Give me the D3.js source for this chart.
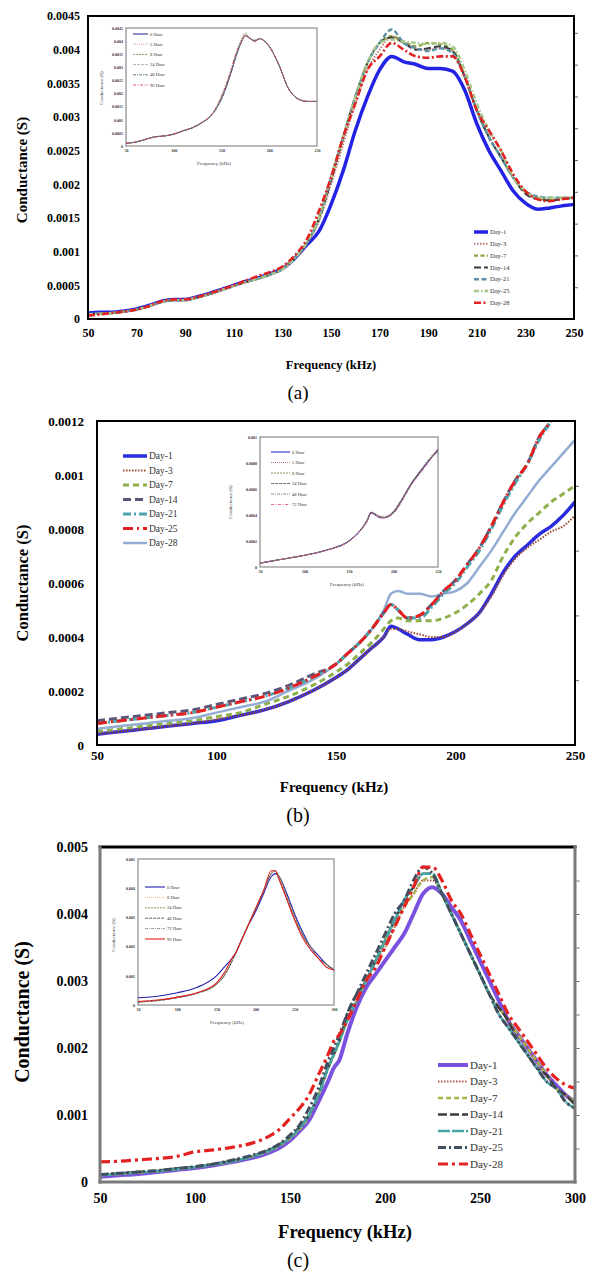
<!DOCTYPE html>
<html><head><meta charset="utf-8">
<script src="https://cdn.jsdelivr.net/npm/d3@7"></script>
<style>body{margin:0;background:#fff}svg{display:block}</style>
</head><body>
<svg id="chart" width="594" height="1274"></svg>
<script>
// ---------------- DATA ----------------
const dayNames = ["Day-1","Day-3","Day-7","Day-14","Day-21","Day-25","Day-28"];
const hourNamesA = ["0 Hour","5 Hour","8 Hour","24 Hour","48 Hour","96 Hour"];
const hourNamesB = ["0 Hour","5 Hour","8 Hour","24 Hour","48 Hour","72 Hour"];
const hourNamesC = ["0 Hour","8 Hour","24 Hour","48 Hour","72 Hour","96 Hour"];

// Panel (a)
const xTicksA = [50,70,90,110,130,150,170,190,210,230,250];
const yTicksA = [0,0.0005,0.001,0.0015,0.002,0.0025,0.003,0.0035,0.004,0.0045];
const rTicksA = [1,2,3,4,5,6,7,8,9];
const freqA = [50,55,60,65,70,75,80,85,90,95,100,105,110,115,120,125,130,135,140,145,150,155,160,165,170,175,180,185,190,195,200,205,210,215,220,225,230,235,240,245,250];
const a_day1  = [0.00009,0.0001,0.0001,0.00012,0.00015,0.0002,0.00026,0.00029,0.00029,0.00033,0.00038,0.00044,0.0005,0.00056,0.00061,0.00067,0.00075,0.0009,0.0011,0.0013,0.0017,0.0022,0.0028,0.0033,0.0037,0.0039,0.00382,0.00378,0.00372,0.00372,0.00368,0.0034,0.0029,0.0025,0.0022,0.0019,0.00172,0.00163,0.00165,0.00168,0.0017];
const a_day3  = [0.00007,0.00008,0.00009,0.00011,0.00014,0.00019,0.00025,0.00028,0.00028,0.00032,0.00037,0.00043,0.00049,0.00055,0.0006,0.00066,0.00074,0.0009,0.00112,0.00145,0.002,0.0026,0.0032,0.0037,0.004,0.0042,0.0041,0.00402,0.004,0.00402,0.00398,0.0036,0.0031,0.0027,0.0024,0.0021,0.00188,0.00178,0.00176,0.00178,0.0018];
const a_day7  = [0.00007,0.00008,0.00009,0.00011,0.00014,0.00019,0.00025,0.00028,0.00029,0.00032,0.00037,0.00043,0.00049,0.00055,0.0006,0.00066,0.00075,0.00091,0.00113,0.0015,0.0021,0.0027,0.0033,0.0038,0.0041,0.0042,0.00412,0.00405,0.0041,0.00408,0.004,0.0036,0.0031,0.0027,0.0024,0.0021,0.00188,0.0018,0.00178,0.0018,0.0018];
const a_day14 = [0.00007,0.00008,0.00009,0.00011,0.00014,0.00019,0.00025,0.00028,0.00028,0.00032,0.00037,0.00043,0.00049,0.00055,0.0006,0.00066,0.00074,0.0009,0.00112,0.00148,0.00205,0.0027,0.0033,0.0038,0.0041,0.00418,0.0041,0.004,0.00402,0.00405,0.00398,0.0036,0.0031,0.0027,0.0024,0.0021,0.00186,0.00178,0.00176,0.00178,0.0018];
const a_day21 = [0.00007,0.00008,0.00009,0.00011,0.00014,0.00019,0.00025,0.00028,0.00028,0.00032,0.00037,0.00043,0.00049,0.00055,0.0006,0.00066,0.00074,0.0009,0.00113,0.0015,0.0021,0.0027,0.0033,0.0038,0.0041,0.0043,0.0041,0.00402,0.00398,0.00402,0.00395,0.0036,0.0031,0.0027,0.0024,0.0021,0.0019,0.00182,0.0018,0.0018,0.0018];
const a_day25 = [0.00007,0.00008,0.00009,0.00011,0.00014,0.00019,0.00025,0.00028,0.00028,0.00032,0.00037,0.00043,0.00049,0.00055,0.0006,0.00066,0.00074,0.0009,0.00113,0.0015,0.0021,0.0027,0.0033,0.0038,0.0041,0.00415,0.00412,0.0041,0.00408,0.0041,0.00405,0.0037,0.0032,0.0028,0.0025,0.0021,0.0019,0.0018,0.0018,0.0018,0.0018];
const a_day28 = [0.00005,0.00007,0.00009,0.00011,0.00014,0.00019,0.00026,0.00029,0.00029,0.00033,0.00038,0.00044,0.0005,0.00057,0.00064,0.0007,0.00078,0.00094,0.00118,0.0016,0.0021,0.0027,0.0032,0.0037,0.0039,0.0041,0.004,0.0039,0.00388,0.0039,0.0039,0.0036,0.0031,0.0028,0.0025,0.00215,0.0019,0.00178,0.00175,0.00178,0.0018];

// Inset (a)
const inXTicksA = [50,100,150,200,250];
const freqIA = [50,60,70,80,90,100,110,120,130,140,150,160,165,170,175,180,185,190,195,200,210,220,230,240,250];
const ia_h0  = [0.0001,0.00015,0.00025,0.00035,0.00038,0.00045,0.00058,0.0007,0.0009,0.0012,0.0018,0.0028,0.0034,0.0039,0.0042,0.0041,0.004,0.0041,0.004,0.0038,0.0031,0.0022,0.0018,0.0017,0.0017];
const ia_h5  = [0.0001,0.00015,0.00024,0.00034,0.00038,0.00045,0.00058,0.0007,0.0009,0.0012,0.0018,0.0028,0.0034,0.0039,0.00425,0.0041,0.00405,0.0041,0.004,0.0038,0.0031,0.0022,0.0018,0.0017,0.0017];
const ia_h8  = [0.0001,0.00015,0.00025,0.00035,0.00038,0.00046,0.00058,0.0007,0.0009,0.0012,0.0019,0.0029,0.0035,0.004,0.0043,0.0041,0.004,0.0041,0.004,0.0038,0.0031,0.0022,0.0018,0.0017,0.0017];
const ia_h24 = [0.0001,0.00015,0.00025,0.00035,0.00038,0.00045,0.00058,0.0007,0.0009,0.0012,0.0018,0.0028,0.0034,0.0039,0.0042,0.0041,0.00405,0.0041,0.004,0.0038,0.0031,0.0022,0.0018,0.0017,0.0017];
const ia_h48 = [0.0001,0.00015,0.00025,0.00035,0.00039,0.00045,0.00058,0.0007,0.0009,0.0012,0.0018,0.0028,0.0034,0.0039,0.0042,0.0041,0.004,0.00408,0.004,0.0038,0.0031,0.0022,0.0018,0.0017,0.0017];
const ia_h96 = [0.0001,0.00015,0.00025,0.00035,0.00038,0.00046,0.00059,0.00072,0.00092,0.00122,0.0019,0.0029,0.0035,0.0039,0.0042,0.0041,0.004,0.0041,0.004,0.0038,0.0031,0.0022,0.0018,0.0017,0.0017];

// Panel (b)
const xTicksB = [50,100,150,200,250];
const yTicksB = [0,0.0002,0.0004,0.0006,0.0008,0.001,0.0012];
const rTicksB = [1,2,3,4];
const freqB = [50,60,70,80,90,100,110,120,130,140,150,155,160,165,170,173,176,180,185,190,195,200,205,210,215,220,225,230,235,240,245,250];
const b_day1  = [0.00004,0.00005,0.00006,0.00007,0.00008,0.00009,0.00011,0.00013,0.00016,0.0002,0.00025,0.00028,0.00032,0.00036,0.0004,0.00044,0.00043,0.00041,0.00039,0.00039,0.0004,0.00042,0.00045,0.00049,0.00056,0.00064,0.0007,0.00074,0.00078,0.00081,0.00085,0.0009];
const b_day3  = [0.00004,0.00005,0.00006,0.00007,0.00008,0.000095,0.00011,0.00013,0.00016,0.0002,0.00025,0.00028,0.00032,0.00036,0.0004,0.00043,0.00043,0.00042,0.00041,0.0004,0.0004,0.00042,0.00045,0.00049,0.00055,0.00063,0.00069,0.00073,0.00076,0.00079,0.00081,0.00085];
const b_day7  = [0.00005,0.00006,0.00007,0.00008,0.00009,0.000105,0.00012,0.00015,0.00018,0.00022,0.00027,0.0003,0.00034,0.00038,0.00043,0.00046,0.00047,0.00046,0.00046,0.00046,0.00047,0.00049,0.00052,0.00056,0.00061,0.0007,0.00077,0.00082,0.00086,0.0009,0.00093,0.00096];
const b_day14 = [0.00009,0.0001,0.00011,0.00012,0.00013,0.00015,0.00017,0.00019,0.00022,0.00026,0.0003,0.00034,0.00038,0.00043,0.00049,0.00052,0.0005,0.00047,0.00048,0.00052,0.00057,0.00061,0.00067,0.00073,0.00081,0.0009,0.00098,0.00104,0.00114,0.0012,0.00128,0.00136];
const b_day21 = [0.00008,0.00009,0.0001,0.00011,0.00012,0.00014,0.00016,0.00018,0.00021,0.00025,0.0003,0.00034,0.00038,0.00043,0.00049,0.00052,0.0005,0.00047,0.00047,0.00051,0.00056,0.0006,0.00066,0.00072,0.0008,0.00089,0.00097,0.00104,0.00113,0.0012,0.00128,0.00136];
const b_day25 = [0.00008,0.00009,0.0001,0.00011,0.00012,0.00014,0.00016,0.00018,0.00021,0.00025,0.0003,0.00034,0.00038,0.00043,0.00049,0.00052,0.0005,0.00047,0.00048,0.00052,0.00057,0.00061,0.00067,0.00073,0.00081,0.0009,0.00098,0.00104,0.00114,0.0012,0.00128,0.00136];
const b_day28 = [0.00006,0.00007,0.00008,0.00009,0.0001,0.00012,0.00014,0.00016,0.0002,0.00024,0.0003,0.00034,0.00038,0.00043,0.0005,0.00056,0.00057,0.00056,0.00056,0.00055,0.00056,0.00057,0.0006,0.00066,0.00072,0.00079,0.00086,0.00092,0.00098,0.00103,0.00108,0.00113];

// Inset (b)
const inXTicksB = [50,100,150,200,250];
const inYTicksB = [0,0.0002,0.0004,0.0006,0.0008,0.001];
const freqIB = [50,75,100,125,150,160,170,175,180,185,190,200,210,220,230,240,250];
const ib_h0  = [0.00003,0.00006,0.00009,0.00013,0.0002,0.00026,0.00035,0.00042,0.0004,0.00038,0.00038,0.00042,0.00052,0.00064,0.00073,0.00082,0.0009];
const ib_h5  = [0.00003,0.00006,0.00009,0.00013,0.0002,0.00026,0.00035,0.00041,0.0004,0.00038,0.00038,0.00042,0.00053,0.00065,0.00074,0.00083,0.00088];
const ib_h8  = [0.00003,0.00006,0.00009,0.00013,0.0002,0.00026,0.00035,0.00042,0.0004,0.00039,0.00038,0.00042,0.00052,0.00064,0.00073,0.00083,0.00091];
const ib_h24 = [0.00003,0.00006,0.00009,0.00013,0.0002,0.00026,0.00036,0.00042,0.0004,0.00038,0.00038,0.00043,0.00053,0.00064,0.00074,0.00082,0.0009];
const ib_h48 = [0.00003,0.00006,0.00009,0.00013,0.0002,0.00026,0.00035,0.00042,0.00041,0.00039,0.00039,0.00042,0.00052,0.00063,0.00073,0.00082,0.00089];
const ib_h72 = [0.00003,0.00006,0.00009,0.00013,0.0002,0.00026,0.00035,0.00041,0.0004,0.00038,0.00038,0.00041,0.00051,0.00063,0.00072,0.00081,0.00092];

// Panel (c)
const xTicksC = [50,100,150,200,250,300];
const yTicksC = [0,0.001,0.002,0.003,0.004,0.005];
const rTicksC = [0.0005,0.0015,0.0025,0.0035,0.0045,0.001,0.002,0.003,0.004];
const freqC = [50,60,70,80,90,100,110,120,130,140,145,150,155,160,165,170,173,176,180,185,190,195,200,205,210,215,220,225,230,235,240,245,250,255,260,265,270,275,280,285,290,295,300];
const c_day1  = [0.00008,0.0001,0.00012,0.00015,0.00018,0.00021,0.00025,0.0003,0.00036,0.00045,0.00052,0.00062,0.00076,0.00092,0.0012,0.0015,0.0017,0.00182,0.0022,0.0026,0.0029,0.0031,0.0033,0.0035,0.0037,0.004,0.0043,0.0044,0.0043,0.0041,0.0039,0.0036,0.0033,0.003,0.0027,0.0024,0.0022,0.002,0.0018,0.0016,0.00145,0.0013,0.0012];
const c_day3  = [0.0001,0.00012,0.00014,0.00016,0.00019,0.00022,0.00026,0.00031,0.00038,0.00048,0.00056,0.00066,0.0008,0.001,0.0013,0.0017,0.0019,0.0021,0.0024,0.0027,0.003,0.0033,0.0035,0.0038,0.0041,0.0043,0.0045,0.0045,0.0043,0.004,0.0037,0.0034,0.0031,0.0028,0.0026,0.0024,0.0022,0.002,0.0018,0.0016,0.0014,0.0013,0.00118];
const c_day7  = [0.0001,0.00012,0.00014,0.00016,0.00019,0.00022,0.00026,0.00031,0.00038,0.00047,0.00055,0.00065,0.00078,0.00098,0.0013,0.0017,0.0019,0.0021,0.0024,0.0027,0.003,0.0033,0.0036,0.0039,0.0041,0.0043,0.0045,0.00455,0.0043,0.004,0.0037,0.0034,0.0031,0.0028,0.0026,0.0024,0.0022,0.002,0.0018,0.0016,0.0014,0.0013,0.0012];
const c_day14 = [0.00011,0.00013,0.00015,0.00017,0.0002,0.00023,0.00027,0.00032,0.00039,0.00049,0.00057,0.00068,0.00082,0.001,0.0013,0.0017,0.0019,0.0021,0.0025,0.0028,0.003,0.0033,0.0036,0.0039,0.0042,0.0044,0.0046,0.0046,0.0043,0.004,0.0037,0.0034,0.0031,0.0028,0.0026,0.0024,0.0021,0.0019,0.0017,0.0016,0.0014,0.0013,0.00115];
const c_day21 = [0.0001,0.00012,0.00014,0.00016,0.00019,0.00022,0.00026,0.00031,0.00038,0.00048,0.00056,0.00066,0.0008,0.001,0.0013,0.0017,0.0019,0.0021,0.0024,0.0027,0.003,0.0033,0.0036,0.0039,0.0042,0.0044,0.0046,0.0046,0.0043,0.004,0.0037,0.0034,0.0031,0.0028,0.0025,0.0023,0.0021,0.0019,0.0017,0.0015,0.0014,0.0012,0.0011];
const c_day25 = [0.00011,0.00013,0.00015,0.00017,0.0002,0.00023,0.00027,0.00033,0.0004,0.0005,0.00058,0.0007,0.00085,0.0011,0.0014,0.0018,0.002,0.0022,0.0025,0.0028,0.0031,0.0034,0.0037,0.004,0.0042,0.0045,0.0047,0.0046,0.0043,0.004,0.0037,0.0034,0.0031,0.0028,0.0025,0.0023,0.0021,0.0019,0.0017,0.0015,0.0014,0.0012,0.0011];
const c_day28 = [0.0003,0.00031,0.00033,0.00035,0.00038,0.00045,0.00048,0.00052,0.00058,0.0007,0.0008,0.00095,0.0011,0.0013,0.0016,0.0019,0.0021,0.0022,0.0024,0.0027,0.003,0.0032,0.0035,0.0038,0.0041,0.0044,0.0047,0.0047,0.0045,0.0042,0.004,0.0037,0.0034,0.0031,0.0028,0.0025,0.0023,0.0021,0.0019,0.0017,0.00155,0.00145,0.0014];

// Inset (c)
const inXTicksC = [50,100,150,200,250,300];
const inYTicksC = [0,0.001,0.002,0.003,0.004,0.005];
const freqIC = [50,75,100,125,150,160,170,175,180,190,200,210,220,225,230,240,250,260,270,280,290,300];
const ic_h0  = [0.00025,0.0003,0.00042,0.0006,0.001,0.0013,0.0016,0.0018,0.0021,0.0027,0.0032,0.0038,0.0044,0.0045,0.0044,0.0038,0.0031,0.0025,0.002,0.0017,0.0014,0.0012];
const ic_h8  = [0.0001,0.00015,0.00025,0.0004,0.0007,0.001,0.0015,0.0018,0.0021,0.0027,0.0033,0.0039,0.0045,0.0046,0.0044,0.0037,0.003,0.0024,0.002,0.0016,0.0014,0.0012];
const ic_h24 = [0.0001,0.00016,0.00026,0.00041,0.00072,0.001,0.0015,0.0018,0.0021,0.0027,0.0033,0.0039,0.0045,0.0046,0.0044,0.0037,0.003,0.0024,0.002,0.0016,0.0014,0.0012];
const ic_h48 = [0.0001,0.00015,0.00025,0.0004,0.0007,0.001,0.0015,0.0018,0.0021,0.0027,0.0033,0.0039,0.0045,0.0046,0.0043,0.0036,0.0029,0.0024,0.0019,0.0016,0.0014,0.0012];
const ic_h72 = [0.0001,0.00015,0.00025,0.0004,0.00072,0.001,0.0015,0.0018,0.0021,0.0027,0.0033,0.0039,0.0045,0.0046,0.0044,0.0037,0.003,0.0024,0.002,0.0016,0.0014,0.0012];
const ic_h96 = [0.00012,0.00017,0.00027,0.00042,0.00075,0.0011,0.0016,0.0018,0.0021,0.0027,0.0033,0.0039,0.0046,0.0046,0.0043,0.0036,0.0029,0.0023,0.0019,0.0016,0.0013,0.0012];

// ---------------- STYLES ----------------
const stylesA = [
  {color:"#2323e6", width:3.5, dash:null},
  {color:"#c07878", width:2, dash:"1.5,1.5"},
  {color:"#8aa33c", width:2.2, dash:"4,2.5"},
  {color:"#3a3a3a", width:2, dash:"7,3"},
  {color:"#5b93a8", width:2.4, dash:"5,2.5"},
  {color:"#a6c98a", width:2.4, dash:"5,2,1.5,2"},
  {color:"#e32222", width:2.6, dash:"7,2.5,2,2.5"}
];
const stylesB = [
  {color:"#2b2be0", width:3.5, dash:null},
  {color:"#9b4a30", width:2, dash:"1.5,1.5"},
  {color:"#8fae4c", width:3, dash:"6,4"},
  {color:"#5c5478", width:3, dash:"8,4"},
  {color:"#4ea3ad", width:3, dash:"8,3,2,3"},
  {color:"#e62020", width:3, dash:"10,4,2,4"},
  {color:"#93acd4", width:2.5, dash:null}
];
const stylesC = [
  {color:"#7b52e0", width:4, dash:null},
  {color:"#b05a4a", width:2, dash:"1.5,1.5"},
  {color:"#a9b347", width:2.5, dash:"5,3"},
  {color:"#3c3c3c", width:2.5, dash:"9,3"},
  {color:"#46a4a4", width:2.5, dash:"12,2"},
  {color:"#3f4f60", width:3, dash:"8,3,2,3"},
  {color:"#e52222", width:3.2, dash:"10,4,3,4"}
];
const insetStylesA = [
  {color:"#1c1c9a", width:1, dash:null},
  {color:"#c890a8", width:0.8, dash:"1,1"},
  {color:"#6b7a2a", width:0.8, dash:"2,1"},
  {color:"#a0a0a0", width:0.8, dash:"3,1"},
  {color:"#2f5f6f", width:0.8, dash:"3,1,1,1"},
  {color:"#e04060", width:0.9, dash:"3,1.5,1,1.5"}
];
const insetStylesB = [
  {color:"#2a2ad0", width:1.1, dash:null},
  {color:"#a06070", width:0.8, dash:"1,1"},
  {color:"#6b7a2a", width:0.8, dash:"2,1"},
  {color:"#505050", width:0.8, dash:"3,1"},
  {color:"#707070", width:0.8, dash:"3,1,1,1"},
  {color:"#e06080", width:0.9, dash:"3,1.5,1,1.5"}
];
const insetStylesC = [
  {color:"#2020b0", width:1.1, dash:null},
  {color:"#d0a860", width:0.8, dash:"1,1"},
  {color:"#7a7a30", width:0.8, dash:"2,1"},
  {color:"#404040", width:0.8, dash:"3,1"},
  {color:"#787878", width:0.8, dash:"3,1,1,1"},
  {color:"#e02020", width:1.1, dash:null}
];

// ---------------- DRAWING ----------------
const svg = d3.select("#chart");
const FONT = "'Liberation Serif','Times New Roman',serif";
const fmt = d => d === 0 ? "0" : String(+d.toFixed(5));
let clipN = 0;

function styleLine(sel, s) {
  sel.attr("fill","none").attr("stroke", s.color).attr("stroke-width", s.width)
     .attr("stroke-dasharray", s.dash).attr("stroke-linejoin","round");
}

function drawSeries(g, x, y, freq, series, styles, order, box) {
  const id = "clip" + (clipN++);
  svg.append("clipPath").attr("id", id).append("rect")
    .attr("x", box[0]).attr("y", box[1]).attr("width", box[2]-box[0]).attr("height", box[3]-box[1]);
  const lg = g.append("g").attr("clip-path", `url(#${id})`);
  order.forEach(k => {
    const line = d3.line().x((d,i) => x(freq[i])).y(d => y(d)).curve(d3.curveMonotoneX);
    lg.append("path").attr("d", line(series[k])).call(styleLine, styles[k]);
  });
}

function drawLegend(g, names, styles, lx0, lx1, tx, y0, dy, fsize) {
  names.forEach((n, i) => {
    const yy = y0 + i*dy;
    g.append("line").attr("x1", lx0).attr("x2", lx1).attr("y1", yy).attr("y2", yy).call(styleLine, styles[i]);
    g.append("text").attr("x", tx).attr("y", yy).attr("dy","0.35em").attr("font-family", FONT)
      .attr("font-size", fsize).attr("fill","#333").text(n);
  });
}

function drawMain(c) {
  const g = svg.append("g");
  const x = d3.scaleLinear().domain(c.xDomain).range([c.left, c.right]);
  const y = d3.scaleLinear().domain(c.yDomain).range([c.bottom, c.top]);
  drawSeries(g, x, y, c.freq, c.series, c.styles, c.order, [c.left, c.top, c.right, c.bottom]);

  const ya = g.append("g").attr("transform", `translate(${c.left},0)`)
    .call(d3.axisLeft(y).tickValues(c.yTicks).tickSize(0).tickPadding(c.yPad).tickFormat(fmt));
  ya.select(".domain").remove();
  ya.selectAll("text").attr("font-family", FONT).attr("font-weight","bold").attr("font-size", c.tickFont).attr("fill","#000");

  const xa = g.append("g").attr("transform", `translate(0,${c.bottom})`)
    .call(d3.axisBottom(x).tickValues(c.xTicks).tickSize(0).tickPadding(c.xPad).tickFormat(d3.format("d")));
  xa.select(".domain").remove();
  xa.selectAll("text").attr("font-family", FONT).attr("font-weight","bold").attr("font-size", c.tickFont).attr("fill","#000");

  // secondary right ticks
  const yr = d3.scaleLinear().domain(c.rDomain).range([c.bottom, c.top]);
  const ra = g.append("g").attr("transform", `translate(${c.right + c.borderW/2},0)`)
    .call(d3.axisRight(yr).tickValues(c.rTicks).tickSize(3).tickFormat(""));
  ra.select(".domain").remove();
  ra.selectAll("line").attr("stroke", "#666").attr("stroke-width", 1);

  // border
  const bw = c.borderW;
  g.append("line").attr("x1", c.left).attr("x2", c.right).attr("y1", c.top).attr("y2", c.top).attr("stroke", c.topColor).attr("stroke-width", bw).attr("stroke-linecap","square");
  g.append("line").attr("x1", c.right).attr("x2", c.right).attr("y1", c.top).attr("y2", c.bottom).attr("stroke", c.sideColor).attr("stroke-width", bw).attr("stroke-linecap","square");
  g.append("line").attr("x1", c.left).attr("x2", c.right).attr("y1", c.bottom).attr("y2", c.bottom).attr("stroke", c.sideColor).attr("stroke-width", bw).attr("stroke-linecap","square");
  g.append("line").attr("x1", c.left).attr("x2", c.left).attr("y1", c.top).attr("y2", c.bottom).attr("stroke", c.sideColor).attr("stroke-width", bw).attr("stroke-linecap","square");

  // titles
  g.append("text").attr("x", c.xTitle[0]).attr("y", c.xTitle[1]).attr("text-anchor","middle").attr("dy","0.35em")
    .attr("font-family", FONT).attr("font-weight","bold").attr("font-size", c.xTitleSize).text("Frequency (kHz)");
  g.append("text").attr("transform", `translate(${c.yTitle[0]},${c.yTitle[1]}) rotate(-90)`).attr("text-anchor","middle").attr("dy","0.35em")
    .attr("font-family", FONT).attr("font-weight","bold").attr("font-size", c.yTitleSize).text("Conductance (S)");
  g.append("text").attr("x", c.label[0]).attr("y", c.label[1]).attr("text-anchor","middle").attr("dy","0.35em")
    .attr("font-family", FONT).attr("font-size", c.labelSize).text(c.labelText);

  drawLegend(g, dayNames, c.styles, c.legend[0], c.legend[1], c.legend[2], c.legend[3], c.legend[4], c.legend[5]);
  return g;
}

function drawInset(c) {
  const g = svg.append("g");
  g.append("rect").attr("x", c.left).attr("y", c.top).attr("width", c.right-c.left).attr("height", c.bottom-c.top)
    .attr("fill","#fff").attr("stroke","#8a8a8a").attr("stroke-width", 1.2);
  const x = d3.scaleLinear().domain(c.xDomain).range([c.left, c.right]);
  const y = d3.scaleLinear().domain(c.yDomain).range([c.bottom, c.top]);
  drawSeries(g, x, y, c.freq, c.series, c.styles, [0,1,2,3,4,5], [c.left, c.top, c.right, c.bottom]);
  const ya = g.append("g").attr("transform", `translate(${c.left},0)`)
    .call(d3.axisLeft(y).tickValues(c.yTicks).tickSize(0).tickPadding(3).tickFormat(fmt));
  ya.select(".domain").remove();
  ya.selectAll("text").attr("font-family", FONT).attr("font-weight","bold").attr("font-size", 4).attr("fill","#333");
  const xa = g.append("g").attr("transform", `translate(0,${c.bottom})`)
    .call(d3.axisBottom(x).tickValues(c.xTicks).tickSize(0).tickPadding(3).tickFormat(d3.format("d")));
  xa.select(".domain").remove();
  xa.selectAll("text").attr("font-family", FONT).attr("font-weight","bold").attr("font-size", 4).attr("fill","#333");
  g.append("text").attr("x", c.xTitle[0]).attr("y", c.xTitle[1]).attr("text-anchor","middle").attr("dy","0.35em")
    .attr("font-family", FONT).attr("font-size", 5).attr("fill","#333").text("Frequency (kHz)");
  g.append("text").attr("transform", `translate(${c.yTitle[0]},${c.yTitle[1]}) rotate(-90)`).attr("text-anchor","middle").attr("dy","0.35em")
    .attr("font-family", FONT).attr("font-size", 5).attr("fill","#333").text("Conductance (S)");
  drawLegend(g, c.names, c.styles, c.legend[0], c.legend[1], c.legend[2], c.legend[3], c.legend[4], 4.5);
}

// Panel (a)
drawMain({
  left:88, right:574, top:16, bottom:319, xDomain:[50,250], yDomain:[0,0.0045],
  xTicks:xTicksA, yTicks:yTicksA, rTicks:rTicksA, rDomain:[0,9.53],
  freq:freqA, series:[a_day1,a_day3,a_day7,a_day14,a_day21,a_day25,a_day28], styles:stylesA, order:[0,1,2,3,4,5,6],
  tickFont:12, yPad:8, xPad:9, borderW:2, topColor:"#000", sideColor:"#000",
  xTitle:[331,365], xTitleSize:12.5, yTitle:[22,170], yTitleSize:15, label:[298,392], labelSize:19, labelText:"(a)",
  legend:[474,488,490,232,11.8,6.5]
});
drawInset({
  left:126, right:317, top:28, bottom:146, xDomain:[50,250], yDomain:[0,0.0045],
  xTicks:inXTicksA, yTicks:yTicksA, freq:freqIA, series:[ia_h0,ia_h5,ia_h8,ia_h24,ia_h48,ia_h96],
  styles:insetStylesA, names:hourNamesA, xTitle:[214,163], yTitle:[101,88], legend:[133,148,150,34,10.2]
});

// Panel (b)
drawMain({
  left:97, right:575, top:421, bottom:745, xDomain:[50,250], yDomain:[0,0.0012],
  xTicks:xTicksB, yTicks:yTicksB, rTicks:rTicksB, rDomain:[0,5],
  freq:freqB, series:[b_day1,b_day3,b_day7,b_day14,b_day21,b_day25,b_day28], styles:stylesB, order:[0,1,2,6,3,4,5],
  tickFont:13, yPad:13, xPad:6, borderW:2, topColor:"#000", sideColor:"#000",
  xTitle:[334,787], xTitleSize:15, yTitle:[22,583], yTitleSize:16.5, label:[298,815], labelSize:20, labelText:"(b)",
  legend:[123,147,149,456,14.5,9.5]
});
drawInset({
  left:260, right:438, top:437, bottom:567, xDomain:[50,250], yDomain:[0,0.001],
  xTicks:inXTicksB, yTicks:inYTicksB, freq:freqIB, series:[ib_h0,ib_h5,ib_h8,ib_h24,ib_h48,ib_h72],
  styles:insetStylesB, names:hourNamesB, xTitle:[347,584], yTitle:[230,502], legend:[271,290,292,452,10.5]
});

// Panel (c)
drawMain({
  left:100, right:575, top:847, bottom:1182, xDomain:[50,300], yDomain:[0,0.005],
  xTicks:xTicksC, yTicks:yTicksC, rTicks:rTicksC, rDomain:[0,0.005],
  freq:freqC, series:[c_day1,c_day3,c_day7,c_day14,c_day21,c_day25,c_day28], styles:stylesC, order:[0,1,2,3,4,5,6],
  tickFont:14, yPad:12, xPad:11, borderW:3, topColor:"#000", sideColor:"#7a7a7a",
  xTitle:[345,1232], xTitleSize:18.5, yTitle:[22,1012], yTitleSize:20, label:[298,1260], labelSize:20, labelText:"(c)",
  legend:[438,468,470,1065,16.5,11]
});
drawInset({
  left:138, right:334, top:859, bottom:1005, xDomain:[50,300], yDomain:[0,0.005],
  xTicks:inXTicksC, yTicks:inYTicksC, freq:freqIC, series:[ic_h0,ic_h8,ic_h24,ic_h48,ic_h72,ic_h96],
  styles:insetStylesC, names:hourNamesC, xTitle:[227,1022], yTitle:[113,935], legend:[145,165,167,887,10.4]
});
</script>
</body></html>
